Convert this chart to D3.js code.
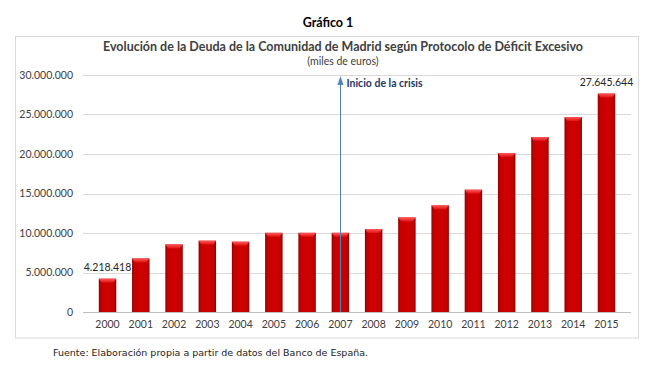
<!DOCTYPE html>
<html>
<head>
<meta charset="utf-8">
<script src="https://cdn.jsdelivr.net/npm/d3@7"></script>
<style>
  body { margin: 0; background: #fff; }
  svg text { font-family: Lato, "Open Sans", sans-serif; }
</style>
</head>
<body>
<div id="chart"></div>
<script>
  const years = ['2000', '2001', '2002', '2003', '2004', '2005', '2006', '2007',
    '2008', '2009', '2010', '2011', '2012', '2013', '2014', '2015'];
  const deuda = [4218418, 6780000, 8560000, 9030000, 8900000, 10020000, 10020000, 10020000,
    10500000, 11970000, 13500000, 15480000, 20130000, 22150000, 24680000, 27645644];
  const yTicks = [0, 5000000, 10000000, 15000000, 20000000, 25000000, 30000000];
  const labelled = ['2000', '2015'];
  const crisisYear = '2007';

  const width = 669;
  const height = 372;
  const plot = {left: 83, right: 631, top: 75, bottom: 312};

  const fmt = (v) => d3.format(',')(v).replace(/,/g, '.');

  const svg = d3.select('#chart')
    .append('svg')
    .attr('width', width)
    .attr('height', height);

  const defs = svg.append('defs');

  // bar fill, darker at the edges
  const grad = defs.append('linearGradient')
    .attr('id', 'barGrad')
    .attr('x1', '0%').attr('x2', '100%').attr('y1', '0%').attr('y2', '0%');
  grad.append('stop').attr('offset', '0%').attr('stop-color', '#8a0000');
  grad.append('stop').attr('offset', '12%').attr('stop-color', '#c40000');
  grad.append('stop').attr('offset', '50%').attr('stop-color', '#d00000');
  grad.append('stop').attr('offset', '88%').attr('stop-color', '#c40000');
  grad.append('stop').attr('offset', '100%').attr('stop-color', '#8a0000');

  const capGrad = defs.append('linearGradient')
    .attr('id', 'capGrad')
    .attr('x1', '0%').attr('x2', '0%').attr('y1', '0%').attr('y2', '100%');
  capGrad.append('stop').attr('offset', '0%').attr('stop-color', '#ff5a5a');
  capGrad.append('stop').attr('offset', '100%').attr('stop-color', '#e01010');

  // heading above the frame
  svg.append('text')
    .attr('x', 328).attr('y', 27)
    .attr('text-anchor', 'middle')
    .attr('font-size', 12.5).attr('font-weight', 'bold')
    .attr('fill', '#000')
    .text('Gráfico 1');

  // chart frame
  svg.append('rect')
    .attr('x', 15.5).attr('y', 36.5)
    .attr('width', 623).attr('height', 301.5)
    .attr('fill', '#fff')
    .attr('stroke', '#d9d9d9');

  svg.append('text')
    .attr('x', 343).attr('y', 51)
    .attr('text-anchor', 'middle')
    .attr('font-size', 13).attr('font-weight', 'bold')
    .attr('fill', '#404040')
    .attr('textLength', 480).attr('lengthAdjust', 'spacingAndGlyphs')
    .text('Evolución de la Deuda de la Comunidad de Madrid según Protocolo de Déficit Excesivo');

  svg.append('text')
    .attr('x', 343).attr('y', 65)
    .attr('text-anchor', 'middle')
    .attr('font-size', 10.5)
    .attr('fill', '#404040')
    .text('(miles de euros)');

  const x = d3.scaleBand()
    .domain(years)
    .range([plot.left, plot.right])
    .padding(0.475);

  const y = d3.scaleLinear()
    .domain([0, 30000000])
    .range([plot.bottom, plot.top]);

  // grid
  svg.append('g')
    .selectAll('line')
    .data(yTicks)
    .join('line')
    .attr('x1', plot.left).attr('x2', plot.right)
    .attr('y1', (d) => Math.round(y(d)) + 0.5)
    .attr('y2', (d) => Math.round(y(d)) + 0.5)
    .attr('stroke', (d) => d === 0 ? '#bfbfbf' : '#d9d9d9');

  // y axis labels
  const yAxis = d3.axisLeft(y)
    .tickValues(yTicks)
    .tickSize(0)
    .tickPadding(10)
    .tickFormat(fmt);
  svg.append('g')
    .attr('transform', `translate(${plot.left},0)`)
    .call(yAxis)
    .call((g) => g.select('.domain').remove())
    .call((g) => g.selectAll('text')
      .attr('font-size', 10.5)
      .attr('fill', '#404040')
      .style('font-family', 'Lato, sans-serif'));

  // x axis labels
  const xAxis = d3.axisBottom(x)
    .tickSize(0)
    .tickPadding(9);
  svg.append('g')
    .attr('transform', `translate(0,${plot.bottom})`)
    .call(xAxis)
    .call((g) => g.select('.domain').remove())
    .call((g) => g.selectAll('text')
      .attr('font-size', 10.5)
      .attr('fill', '#404040')
      .style('font-family', 'Lato, sans-serif'));

  // bars
  const bars = svg.append('g')
    .selectAll('g')
    .data(years.map((year, i) => ({year, value: deuda[i]})))
    .join('g');

  bars.append('rect')
    .attr('x', (d) => x(d.year))
    .attr('y', (d) => y(d.value))
    .attr('width', x.bandwidth())
    .attr('height', (d) => y(0) - y(d.value))
    .attr('fill', 'url(#barGrad)');

  bars.append('path')
    .attr('d', (d) => {
      const x0 = x(d.year);
      const x1 = x0 + x.bandwidth();
      const y0 = y(d.value);
      return `M${x0},${y0} L${x1},${y0} L${x1 - 3},${y0 + 4} L${x0 + 3},${y0 + 4} Z`;
    })
    .attr('fill', 'url(#capGrad)');

  // value labels
  svg.append('g')
    .selectAll('text')
    .data(years.map((year, i) => ({year, value: deuda[i]})).filter((d) => labelled.includes(d.year)))
    .join('text')
    .attr('x', (d) => x(d.year) + x.bandwidth() / 2)
    .attr('y', (d) => y(d.value) - 8)
    .attr('text-anchor', 'middle')
    .attr('font-size', 10.5)
    .attr('fill', '#262626')
    .text((d) => fmt(d.value));

  // crisis marker
  const cx = Math.round(x(crisisYear) + x.bandwidth() / 2) + 0.5;
  const tipY = plot.top + 1;
  svg.append('line')
    .attr('x1', cx).attr('x2', cx)
    .attr('y1', plot.bottom).attr('y2', tipY + 6)
    .attr('stroke', '#4f81bd')
    .attr('stroke-width', 1);

  svg.append('path')
    .attr('d', `M${cx},${tipY} L${cx + 3},${tipY + 9} L${cx - 3},${tipY + 9} Z`)
    .attr('fill', '#4f81bd');

  svg.append('text')
    .attr('x', cx + 6).attr('y', 87)
    .attr('font-size', 10.5).attr('font-weight', 'bold')
    .attr('fill', '#1f3864')
    .text('Inicio de la crisis');

  // source note
  svg.append('text')
    .attr('x', 53).attr('y', 356)
    .attr('font-size', 9.5)
    .attr('fill', '#222')
    .style('font-family', '"DejaVu Sans", Verdana, sans-serif')
    .text('Fuente: Elaboración propia a partir de datos del Banco de España.');
</script>
</body>
</html>
